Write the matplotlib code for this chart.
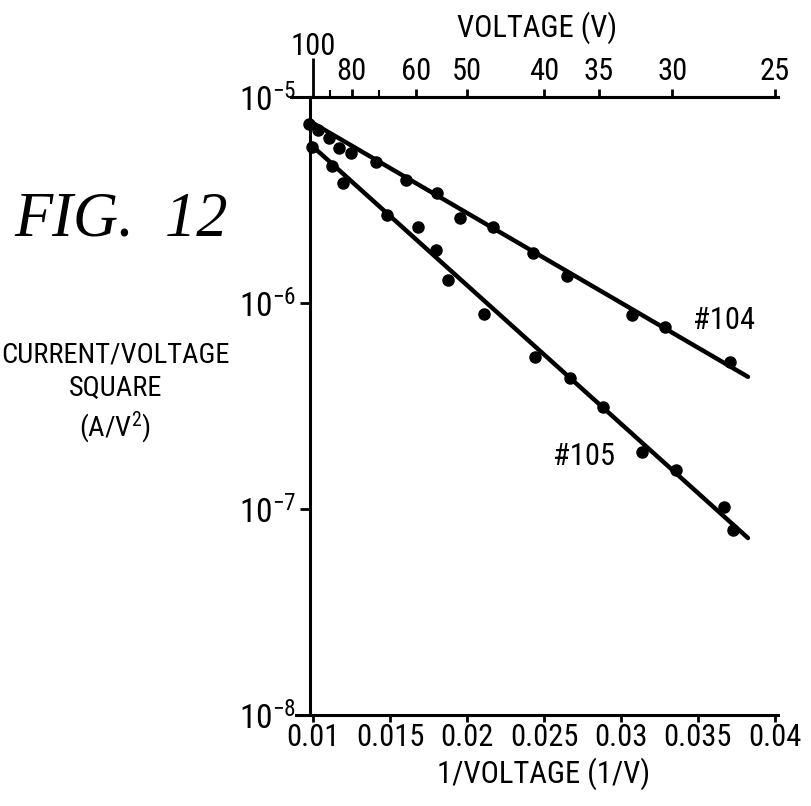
import numpy as np
import matplotlib
matplotlib.use("Agg")
from matplotlib import pyplot as plt
from matplotlib import font_manager as fm
from matplotlib.ticker import NullLocator

# values (x = 1/V, y = I/V^2 in A/V^2)
x_104 = [0.00974, 0.01032, 0.01104, 0.01169, 0.01247, 0.01409, 0.01604, 0.01805,
         0.01955, 0.02169, 0.02429, 0.02649, 0.03071, 0.03286, 0.03708]
y_104 = [7.40e-6, 6.92e-6, 6.32e-6, 5.65e-6, 5.34e-6, 4.83e-6, 3.95e-6, 3.42e-6,
         2.59e-6, 2.34e-6, 1.75e-6, 1.35e-6, 8.75e-7, 7.64e-7, 5.17e-7]

x_105 = [0.00994, 0.01123, 0.01195, 0.01481, 0.01682, 0.01799, 0.01877, 0.02110,
         0.02442, 0.02669, 0.02883, 0.03136, 0.03357, 0.03669, 0.03727]
y_105 = [5.71e-6, 4.62e-6, 3.83e-6, 2.68e-6, 2.34e-6, 1.81e-6, 1.29e-6, 8.85e-7,
         5.47e-7, 4.32e-7, 3.13e-7, 1.89e-7, 1.55e-7, 1.02e-7, 7.91e-8]

# fitted lines (end points)
fit_x = [0.00987, 0.03825]
fit_104 = [7.56e-6, 4.38e-7]
fit_105 = [5.85e-6, 7.23e-8]

bottom_ticks = [0.01, 0.015, 0.02, 0.025, 0.03, 0.035, 0.04]
bottom_labels = ["0.01", "0.015", "0.02", "0.025", "0.03", "0.035", "0.04"]
volt_ticks = [100, 80, 60, 50, 40, 35, 30, 25]
volt_minor = [90, 70]
decades = [1e-8, 1e-7, 1e-6, 1e-5]
decade_labels = [r"$10^{-8}$", r"$10^{-7}$", r"$10^{-6}$", r"$10^{-5}$"]


def pick_font(candidates):
    for name in candidates:
        try:
            fm.findfont(fm.FontProperties(family=name), fallback_to_default=False)
            return name
        except ValueError:
            pass
    return "DejaVu Sans"


NARROW = pick_font(["Roboto Condensed", "Archivo Narrow", "PT Sans Narrow",
                    "Liberation Sans Narrow", "Encode Sans Condensed",
                    "IBM Plex Sans Condensed", "Barlow Condensed", "Saira Condensed",
                    "Open Sans Condensed", "DejaVu Sans"])
plt.rcParams["font.family"] = [NARROW, "DejaVu Sans"]
plt.rcParams["mathtext.fontset"] = "custom"
plt.rcParams["mathtext.rm"] = NARROW
plt.rcParams["mathtext.it"] = NARROW
plt.rcParams["mathtext.bf"] = NARROW + ":bold"

fig = plt.figure(figsize=(8.11, 8.06), dpi=100)
ax = fig.add_axes([0.3822, 0.1129, 0.5771, 0.7668])

ax.set_yscale("log")
ax.set_xlim(0.0098, 0.0402)
ax.set_ylim(1e-8, 1e-5)

ax.plot(fit_x, fit_104, color="black", lw=3.2, solid_capstyle="round")
ax.plot(fit_x, fit_105, color="black", lw=3.2, solid_capstyle="round")
ax.plot(x_104, y_104, "o", color="black", ms=8, clip_on=False)
ax.plot(x_105, y_105, "o", color="black", ms=8, clip_on=False)

ax.text(0.03468, 8.26e-7, "#104", fontsize=22, ha="left", va="center")
ax.text(0.02558, 1.79e-7, "#105", fontsize=22, ha="left", va="center")

ax.spines["right"].set_visible(False)
for s in ["left", "bottom", "top"]:
    ax.spines[s].set_linewidth(2.2)

ax.set_xticks(bottom_ticks)
ax.set_xticklabels(bottom_labels, fontsize=22)
ax.set_yticks(decades)
ax.set_yticklabels(decade_labels, fontsize=24)
ax.yaxis.set_minor_locator(NullLocator())
ax.xaxis.set_minor_locator(NullLocator())
ax.tick_params(axis="both", direction="out", length=7, width=2, pad=3)
ax.tick_params(axis="x", length=5, pad=1)

# little overhang of the axis lines left of the spine, as drawn
ax.plot([-0.03, 0], [0, 0], transform=ax.transAxes, color="black", lw=2.2, clip_on=False)
ax.plot([-0.04, 0], [1, 1], transform=ax.transAxes, color="black", lw=2.2, clip_on=False)

ax.set_xlabel("1/VOLTAGE (1/V)", fontsize=22, labelpad=4)

# top voltage axis
top = ax.twiny()
top.set_xlim(ax.get_xlim())
for s in ["left", "right", "bottom"]:
    top.spines[s].set_visible(False)
top.spines["top"].set_linewidth(2.2)
top.set_xticks(1.0 / np.array(volt_ticks))
top.set_xticklabels([str(v) for v in volt_ticks], fontsize=22)
top.set_xticks(1.0 / np.array(volt_minor), minor=True)
top.tick_params(axis="x", which="major", direction="out", length=6, width=2, pad=2)
top.tick_params(axis="x", which="minor", direction="out", length=5, width=1.5)
first = top.xaxis.get_major_ticks()[0]
first.set_pad(20)
first.tick2line.set_markersize(28)
first.tick2line.set_markeredgewidth(2)
fig.text(0.662, 1 - 28 / 806, "VOLTAGE (V)", fontsize=22, ha="center", va="center")

fig.text(0.018, 0.727, "FIG.  12", fontsize=45, family="Liberation Serif",
         style="italic", ha="left", va="center")
fig.text(0.142, 0.511, "CURRENT/VOLTAGE\nSQUARE\n(A/V$^2$)", fontsize=20.5,
         ha="center", va="center", linespacing=1.3)

fig.savefig("out.png", dpi=100)
